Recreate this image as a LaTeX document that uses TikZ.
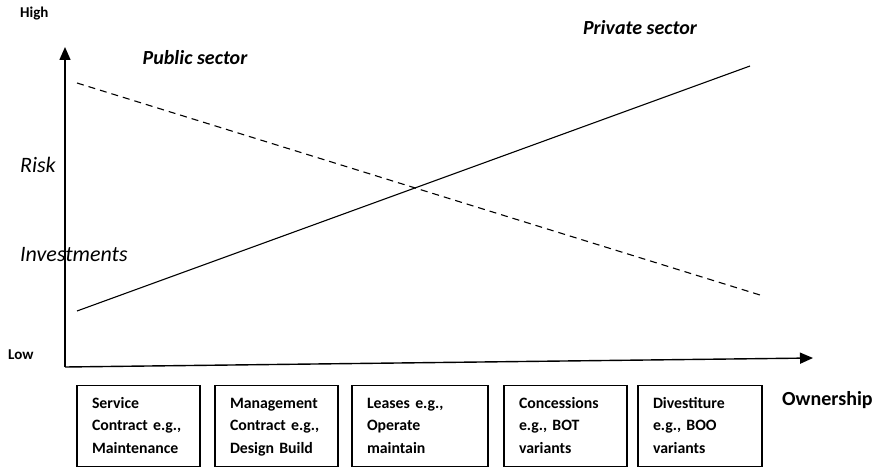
\documentclass[tikz,border=0pt]{standalone}
\usepackage{fontspec}
\setmainfont{Carlito}
\usetikzlibrary{arrows.meta,positioning}

\tikzset{
  axis/.style={line width=1.4pt,-{Triangle[length=13pt,width=11pt]}},
  tag/.style={inner sep=0pt,anchor=west,font=\fontsize{15}{18}\selectfont\bfseries},
  yname/.style={inner sep=0pt,anchor=west,font=\fontsize{22}{26}\selectfont\itshape},
  sector/.style={inner sep=0pt,font=\fontsize{20}{24}\selectfont\bfseries\itshape},
  kind/.style={draw,line width=1.1pt,minimum height=81pt,inner xsep=15pt,
    align=left,font=\fontsize{15.8}{22.5}\selectfont\bfseries,
    execute at begin node=\strut,execute at end node=\strut}
}

\begin{document}
\begin{tikzpicture}[x=1pt,y=-1pt]
  \useasboundingbox (0,0) rectangle (894,468);

  % Ejes
  \coordinate (origin) at (65,367);
  \coordinate (ytip) at (65,47);
  \coordinate (xtip) at (813,358);
  \draw[axis] (origin) -- (ytip);
  \draw[axis] (origin) -- (xtip);

  % Etiquetas de los ejes
  \node[tag] (high) at (20,14) {High};
  \node[tag] (low) at (8,355) {Low};
  \node[yname] (risk) at (20,165) {Risk};
  \node[yname] (invest) at (20,255) {Investments};
  \node[tag,font=\fontsize{20}{24}\selectfont\bfseries] (owner) at (782,400) {Ownership};

  % Sector publico y privado
  \node[sector] (public) at (195,58) {Public sector};
  \node[sector] (private) at (640,28) {Private sector};

  % Riesgo (discontinua) e inversiones (continua)
  \coordinate (riskA) at (77,83);
  \coordinate (riskB) at (760,295);
  \coordinate (invA) at (77,311);
  \coordinate (invB) at (750,66);
  \draw[line width=1.1pt,dash pattern=on 7pt off 5pt] (riskA) -- (riskB);
  \draw[line width=1.1pt] (invA) -- (invB);

  % Modalidades de contrato
  \node[kind,text width=93pt] (service) at (138.5,426) {Service\\Contract e.g.,\\Maintenance};
  \node[kind,text width=93pt] (manage) at (276.5,426) {Management\\Contract e.g.,\\Design Build};
  \node[kind,text width=106pt] (lease) at (420,426) {Leases e.g.,\\Operate\\maintain};
  \node[kind,text width=93pt] (concess) at (565.5,426) {Concessions\\e.g., BOT\\variants};
  \node[kind,text width=94pt] (divest) at (700,426) {Divestiture\\e.g., BOO\\variants};

\end{tikzpicture}
\end{document}
